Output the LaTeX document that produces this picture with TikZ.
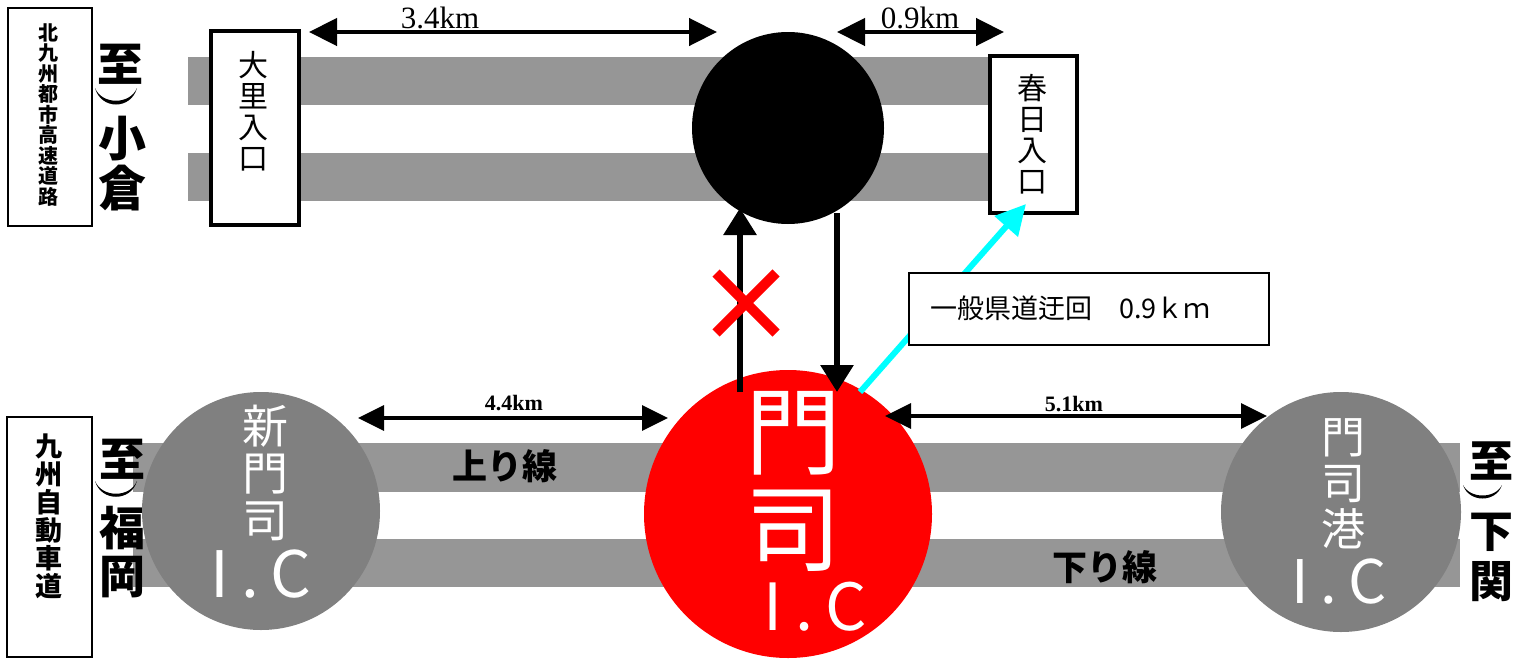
\documentclass[tikz,border=0pt]{standalone}
\usepackage{fontspec}
\setmainfont{Liberation Serif}
\newfontfamily\jp{Noto Sans CJK JP}
\usetikzlibrary{arrows.meta}
\definecolor{band}{RGB}{150,150,150}
\definecolor{icgray}{RGB}{128,128,128}
\definecolor{aqua}{RGB}{0,255,255}
\newcommand\fsz[1]{\fontsize{#1}{#1}\selectfont}
\tikzset{
  bandbox/.style={fill=band,draw=none},
  thinbox/.style={draw=black,line width=1.5pt,fill=white},
  entbox/.style={draw=black,line width=4pt,fill=white},
  vlabel/.style={inner sep=0pt,align=center,font=\jp\bfseries\fontsize{20}{20.5}\selectfont},
  entlabel/.style={inner sep=0pt,align=center,font=\jp\fontsize{30}{31}\selectfont},
  dirchar/.style={inner sep=0pt,font=\jp\bfseries\fsz{48}},
  ictext/.style={inner sep=0pt,text=white,align=center},
  dimtop/.style={line width=4.5pt,{Triangle[length=28pt,width=27pt]}-{Triangle[length=28pt,width=27pt]}},
  dimbot/.style={line width=3.5pt,{Triangle[length=26pt,width=25pt]}-{Triangle[length=26pt,width=25pt]}},
  ramp/.style={line width=6pt,-{Triangle[length=27pt,width=32pt]}},
  kmtext/.style={inner sep=0pt,anchor=base,font=\fsz{31}},
  kmbold/.style={inner sep=0pt,anchor=base,font=\bfseries\fsz{22}},
  linetext/.style={inner sep=0pt,font=\jp\bfseries\fsz{35}},
}
\begin{document}
\begin{tikzpicture}[x=1pt,y=-1pt]
\useasboundingbox (0,0) rectangle (1521,659);
% ---------- upper expressway ----------
\path[bandbox] (188,57) rectangle (990,105);
\path[bandbox] (188,153) rectangle (990,201);
\node[thinbox,minimum width=84pt,minimum height=218pt,inner sep=0pt] (kbox) at (50,117) {};
\node[vlabel] (klabel) at (48,115) {北\\九\\州\\都\\市\\高\\速\\道\\路};
\node[dirchar,font=\jp\bfseries\fsz{46}] (ko1) at (120,64) {至};
\fill (95,88) .. controls (101,110) and (131,110) .. (137,88) .. controls (130,105) and (102,105) .. (95,88) -- cycle;
\node[dirchar] (ko3) at (122,139) {小};
\node[dirchar] (ko4) at (122,188) {倉};
\node[entbox,minimum width=88pt,minimum height=194pt,inner sep=0pt] (dairi) at (255,128) {};
\node[entlabel] (dairit) at (253,111) {大\\里\\入\\口};
\node[entbox,minimum width=87pt,minimum height=157pt,inner sep=0pt] (kasuga) at (1033.5,134.5) {};
\node[entlabel] (kasugat) at (1032,134) {春\\日\\入\\口};
\node[circle,fill=black,minimum size=192pt,inner sep=0pt] (jct) at (788,128) {};
\coordinate (d1a) at (309,32); \coordinate (d1b) at (717,32);
\coordinate (d2a) at (837,32); \coordinate (d2b) at (1004,32);
\draw[dimtop] (d1a) -- (d1b);
\draw[dimtop] (d2a) -- (d2b);
\node[kmtext] (km34) at (440,28) {3.4km};
\node[kmtext] (km09) at (920,28) {0.9km};
% ---------- lower expressway ----------
\path[bandbox] (133,443) rectangle (1460,492);
\path[bandbox] (133,539) rectangle (1460,587);
\node[thinbox,minimum width=85pt,minimum height=240pt,inner sep=0pt] (qbox) at (49.5,537) {};
\node[vlabel,font=\jp\bfseries\fontsize{27}{28}\selectfont] (qlabel) at (49,516) {九\\州\\自\\動\\車\\道};
\node[dirchar,font=\jp\bfseries\fsz{46}] (fu1) at (122,459) {至};
\fill (95,481) .. controls (101,502) and (131,502) .. (137,481) .. controls (130,498) and (102,498) .. (95,481) -- cycle;
\node[dirchar,font=\jp\bfseries\fsz{46}] (fu3) at (122,528) {福};
\node[dirchar,font=\jp\bfseries\fsz{46}] (fu4) at (122,577) {岡};
\node[dirchar,font=\jp\bfseries\fsz{44}] (sh1) at (1491,461) {至};
\node[dirchar,font=\jp\bfseries\fsz{44}] (sh3) at (1491,532) {下};
\node[dirchar,font=\jp\bfseries\fsz{44}] (sh4) at (1491,582) {関};
% interchanges
\node[circle,fill=icgray,minimum size=238pt,inner sep=0pt] (shinmoji) at (261,511) {};
\node[circle,fill=red,minimum size=288pt,inner sep=0pt] (moji) at (788,514) {};
\node[circle,fill=icgray,minimum size=240pt,inner sep=0pt] (mojiko) at (1341,512) {};
\fill (1463,485) .. controls (1469,503) and (1496,503) .. (1502,485) .. controls (1495,499) and (1470,499) .. (1463,485) -- cycle;
\node[ictext,font=\jp\fontsize{46}{47}\selectfont] (sht) at (265,473) {新\\門\\司};
\node[ictext,font=\jp\fsz{64}] (shic) at (261,574) {I\kern 0.2em.\kern 0.18em C};
\node[ictext,font=\jp\fontsize{96}{97}\selectfont] (mt) at (793,481) {門\\司};
\node[ictext,font=\jp\fsz{65}] (mic) at (815,607) {I\kern 0.2em.\kern 0.18em C};
\node[ictext,font=\jp\fontsize{44}{46}\selectfont] (mkt) at (1343,484) {門\\司\\港};
\node[ictext,font=\jp\fsz{60}] (mkic) at (1339,582) {I\kern 0.2em.\kern 0.18em C};
\node[linetext] (nobori) at (505,466) {上り線};
\node[linetext] (kudari) at (1105,567) {下り線};
% distances
\coordinate (d3a) at (358,418); \coordinate (d3b) at (668,418);
\coordinate (d4a) at (885,416); \coordinate (d4b) at (1267,416);
\draw[dimbot] (d3a) -- (d3b);
\draw[dimbot] (d4a) -- (d4b);
\node[kmbold] (km44) at (514,410) {4.4km};
\node[kmbold] (km51) at (1074,411) {5.1km};
% ramps
\coordinate (upa) at (740,392); \coordinate (upb) at (740,208);
\coordinate (dna) at (837,213); \coordinate (dnb) at (837,392);
\draw[ramp] (upa) -- (upb);
\draw[ramp] (dna) -- (dnb);
\draw[red,line width=10pt] (716,273) -- (776,333) (776,273) -- (716,333);
\coordinate (cya) at (860,392); \coordinate (cyb) at (1026,204);
\draw[aqua,line width=6pt,-{Triangle[length=30pt,width=30pt]}] (cya) -- (cyb);
\node[thinbox,minimum width=360pt,minimum height=72pt,inner sep=0pt] (detour) at (1089,309) {};
\node[inner sep=0pt,anchor=west,font=\jp\fsz{27}] (detourt) at (930,308) {一般県道迂回　0.9ｋｍ};
\end{tikzpicture}
\end{document}
